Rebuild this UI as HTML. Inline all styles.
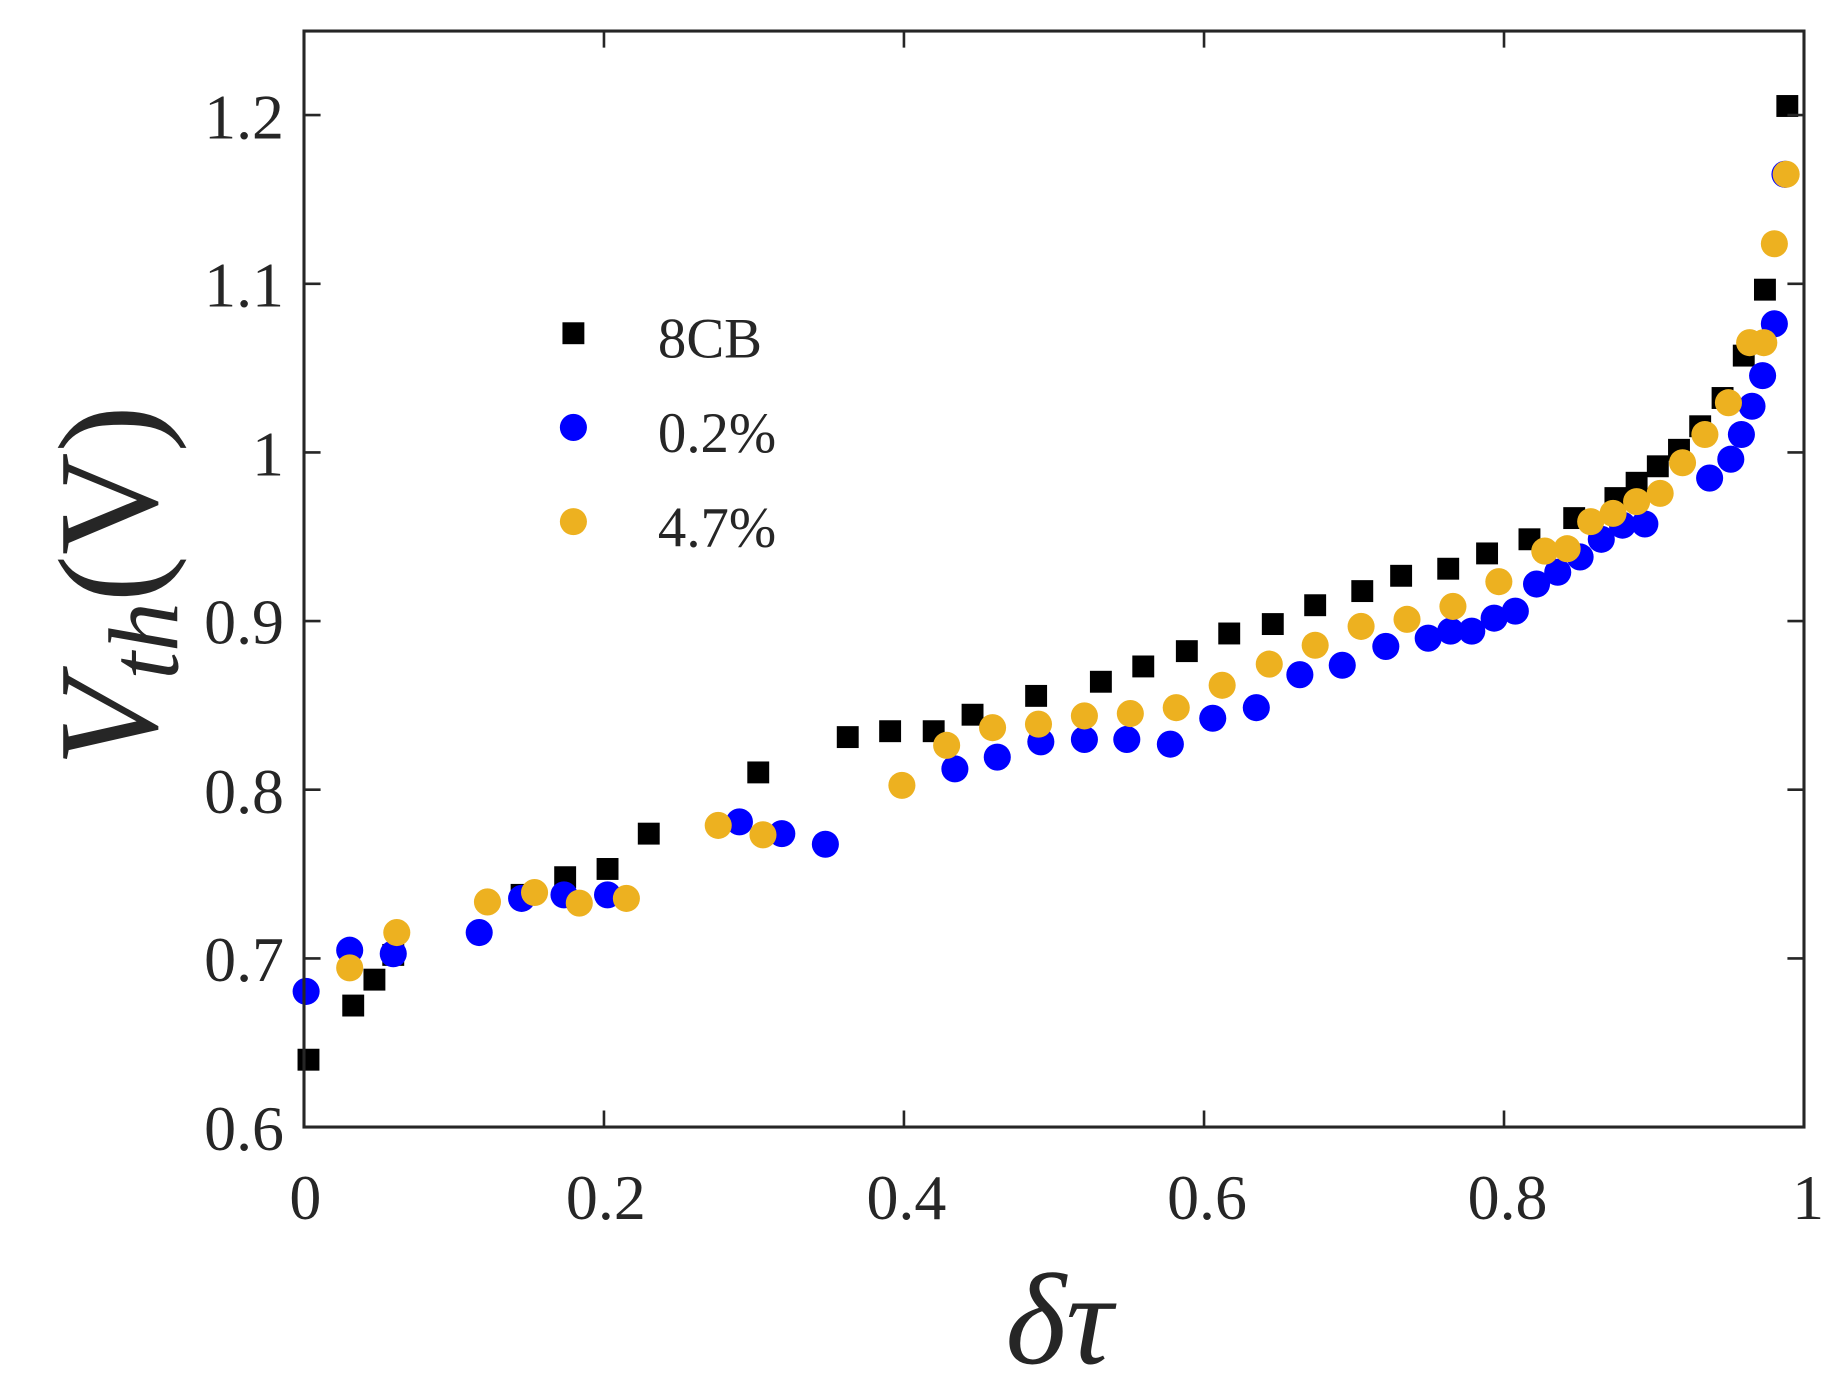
<!DOCTYPE html>
<html><head><style>html,body{margin:0;padding:0;background:#fff}svg{display:block}</style></head>
<body>
<svg width="1846" height="1379" viewBox="0 0 1560 1165.3" xmlns="http://www.w3.org/2000/svg" font-family="'Liberation Serif', serif">
<rect x="0" y="0" width="1560" height="1166" fill="#fff"/>
<g transform="scale(0.995)">
<g fill="#000">
<rect x="252.7" y="890.7" width="18.6" height="18.6"/><rect x="290.7" y="844.7" width="18.6" height="18.6"/><rect x="308.7" y="822.7" width="18.6" height="18.6"/><rect x="324.7" y="801.7" width="18.6" height="18.6"/><rect x="433.7" y="750.7" width="18.6" height="18.6"/><rect x="470.7" y="735.7" width="18.6" height="18.6"/><rect x="506.7" y="728.7" width="18.6" height="18.6"/><rect x="541.7" y="698.7" width="18.6" height="18.6"/><rect x="634.7" y="646.7" width="18.6" height="18.6"/><rect x="710.7" y="616.7" width="18.6" height="18.6"/><rect x="746.7" y="611.7" width="18.6" height="18.6"/><rect x="783.7" y="611.7" width="18.6" height="18.6"/><rect x="816.7" y="597.7" width="18.6" height="18.6"/><rect x="870.7" y="581.7" width="18.6" height="18.6"/><rect x="925.7" y="569.7" width="18.6" height="18.6"/><rect x="961.7" y="556.7" width="18.6" height="18.6"/><rect x="998.7" y="543.7" width="18.6" height="18.6"/><rect x="1034.7" y="528.7" width="18.6" height="18.6"/><rect x="1071.7" y="520.7" width="18.6" height="18.6"/><rect x="1107.7" y="504.7" width="18.6" height="18.6"/><rect x="1147.7" y="492.7" width="18.6" height="18.6"/><rect x="1180.7" y="479.7" width="18.6" height="18.6"/><rect x="1220.7" y="473.7" width="18.6" height="18.6"/><rect x="1253.7" y="460.7" width="18.6" height="18.6"/><rect x="1289.7" y="448.7" width="18.6" height="18.6"/><rect x="1327.7" y="430.7" width="18.6" height="18.6"/><rect x="1362.7" y="413.7" width="18.6" height="18.6"/><rect x="1380.7" y="400.7" width="18.6" height="18.6"/><rect x="1398.7" y="386.7" width="18.6" height="18.6"/><rect x="1416.7" y="372.7" width="18.6" height="18.6"/><rect x="1434.7" y="352.7" width="18.6" height="18.6"/><rect x="1453.7" y="328.7" width="18.6" height="18.6"/><rect x="1471.7" y="292.7" width="18.6" height="18.6"/><rect x="1489.7" y="236.7" width="18.6" height="18.6"/><rect x="1508.7" y="80.7" width="18.6" height="18.6"/>
</g>
<g fill="#0000ff">
<circle cx="260" cy="842" r="11.5"/><circle cx="297" cy="807" r="11.5"/><circle cx="334" cy="810" r="11.5"/><circle cx="407" cy="792" r="11.5"/><circle cx="443" cy="763" r="11.5"/><circle cx="479" cy="760" r="11.5"/><circle cx="516" cy="760" r="11.5"/><circle cx="628" cy="698" r="11.5"/><circle cx="664" cy="708" r="11.5"/><circle cx="701" cy="717" r="11.5"/><circle cx="811" cy="653" r="11.5"/><circle cx="847" cy="643" r="11.5"/><circle cx="884" cy="630" r="11.5"/><circle cx="921" cy="628" r="11.5"/><circle cx="957" cy="628" r="11.5"/><circle cx="994" cy="632" r="11.5"/><circle cx="1030" cy="610" r="11.5"/><circle cx="1067" cy="601" r="11.5"/><circle cx="1104" cy="573" r="11.5"/><circle cx="1140" cy="565" r="11.5"/><circle cx="1177" cy="549" r="11.5"/><circle cx="1213" cy="542" r="11.5"/><circle cx="1232" cy="536" r="11.5"/><circle cx="1250" cy="536" r="11.5"/><circle cx="1269" cy="525" r="11.5"/><circle cx="1287" cy="519" r="11.5"/><circle cx="1305" cy="496" r="11.5"/><circle cx="1323" cy="486" r="11.5"/><circle cx="1342" cy="473" r="11.5"/><circle cx="1360" cy="458" r="11.5"/><circle cx="1378" cy="446" r="11.5"/><circle cx="1397" cy="445" r="11.5"/><circle cx="1452" cy="406" r="11.5"/><circle cx="1470" cy="390" r="11.5"/><circle cx="1479" cy="369" r="11.5"/><circle cx="1488" cy="345" r="11.5"/><circle cx="1497" cy="319" r="11.5"/><circle cx="1507" cy="275" r="11.5"/><circle cx="1516" cy="148" r="11.5"/>
</g>
<g fill="#EDB120">
<circle cx="297" cy="822" r="11.5"/><circle cx="337" cy="792" r="11.5"/><circle cx="414" cy="766" r="11.5"/><circle cx="454" cy="758" r="11.5"/><circle cx="492" cy="767" r="11.5"/><circle cx="532" cy="763" r="11.5"/><circle cx="610" cy="701" r="11.5"/><circle cx="648" cy="709" r="11.5"/><circle cx="766" cy="667" r="11.5"/><circle cx="804" cy="633" r="11.5"/><circle cx="843" cy="618" r="11.5"/><circle cx="882" cy="615" r="11.5"/><circle cx="921" cy="608" r="11.5"/><circle cx="960" cy="606" r="11.5"/><circle cx="999" cy="601" r="11.5"/><circle cx="1038" cy="582" r="11.5"/><circle cx="1078" cy="564" r="11.5"/><circle cx="1117" cy="548" r="11.5"/><circle cx="1156" cy="532" r="11.5"/><circle cx="1195" cy="526" r="11.5"/><circle cx="1234" cy="515" r="11.5"/><circle cx="1273" cy="494" r="11.5"/><circle cx="1312" cy="468" r="11.5"/><circle cx="1331" cy="466" r="11.5"/><circle cx="1351" cy="443" r="11.5"/><circle cx="1370" cy="436" r="11.5"/><circle cx="1390" cy="426" r="11.5"/><circle cx="1410" cy="419" r="11.5"/><circle cx="1429" cy="393" r="11.5"/><circle cx="1448" cy="369" r="11.5"/><circle cx="1468" cy="342" r="11.5"/><circle cx="1486" cy="291" r="11.5"/><circle cx="1498" cy="291" r="11.5"/><circle cx="1507" cy="207" r="11.5"/><circle cx="1517" cy="148" r="11.5"/>
</g>
<rect x="477.7" y="273.7" width="18.6" height="18.6" fill="#000"/>
<circle cx="487" cy="363" r="11.5" fill="#0000ff"/>
<circle cx="487" cy="443" r="11.5" fill="#EDB120"/>
</g>
<rect x="256.9" y="26.2" width="1267.6" height="926.2" fill="none" stroke="#262626" stroke-width="2.6"/>
<g stroke="#262626" stroke-width="2.2">
<path d="M256.9 952.4v-14M510.4 952.4v-14M763.9 952.4v-14M1017.5 952.4v-14M1271 952.4v-14M256.9 26.2v14M510.4 26.2v14M763.9 26.2v14M1017.5 26.2v14M1271 26.2v14M1524.5 26.2v14"/>
<path d="M256.9 809.9h14M256.9 667.3h14M256.9 524.8h14M256.9 382.3h14M256.9 239.8h14M256.9 97.2h14M1524.5 809.9h-14M1524.5 667.3h-14M1524.5 524.8h-14M1524.5 382.3h-14M1524.5 239.8h-14M1524.5 97.2h-14"/>
</g>
<g font-size="54" fill="#262626" text-anchor="end">
<text x="240" y="972">0.6</text><text x="240" y="829">0.7</text><text x="240" y="687">0.8</text><text x="240" y="544">0.9</text><text x="240" y="402">1</text><text x="240" y="259">1.1</text><text x="240" y="117">1.2</text>
</g>
<g font-size="54" fill="#262626" text-anchor="middle">
<text x="258" y="1030">0</text><text x="512" y="1030">0.2</text><text x="766" y="1030">0.4</text><text x="1020" y="1030">0.6</text><text x="1274" y="1030">0.8</text><text x="1528" y="1030">1</text>
</g>
<text x="895" y="1152" font-size="110" font-style="italic" text-anchor="middle" fill="#262626">δτ</text>
<text transform="translate(132,495) rotate(-90)" font-size="120" text-anchor="middle" fill="#262626"><tspan font-style="italic">V</tspan><tspan font-style="italic" font-size="84" dy="18">th</tspan><tspan dy="-18">(V)</tspan></text>
<g font-size="48" fill="#262626"><text x="556" y="302">8CB</text><text x="556" y="382">0.2%</text><text x="556" y="462">4.7%</text></g>
</svg>
</body></html>
